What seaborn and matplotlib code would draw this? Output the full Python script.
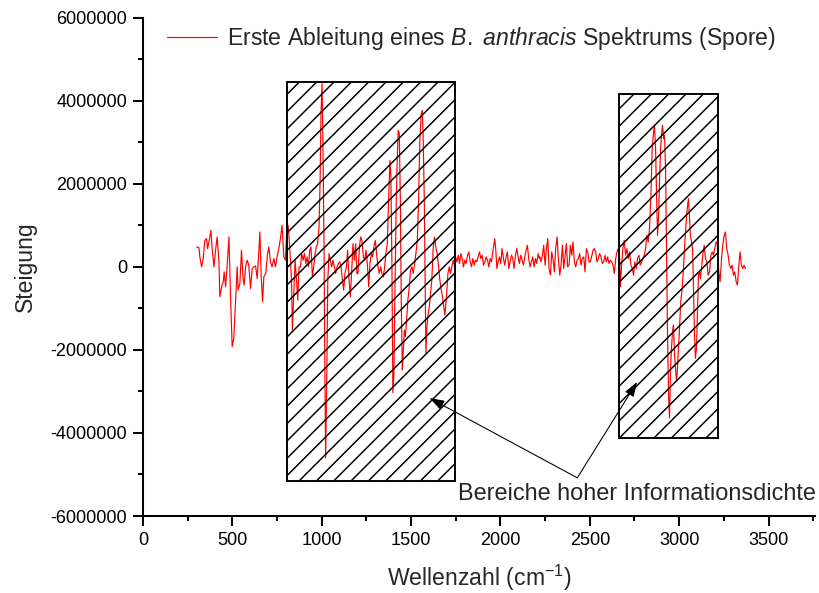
import numpy as np
import pandas as pd
import matplotlib.pyplot as plt
import seaborn as sns
from matplotlib.patches import Rectangle
from matplotlib.ticker import MultipleLocator, FuncFormatter


sns.set_style("ticks")
plt.rcParams["font.family"] = ["Liberation Sans", "DejaVu Sans"]
plt.rcParams["mathtext.fontset"] = "custom"
plt.rcParams["mathtext.rm"] = "Liberation Sans"
plt.rcParams["mathtext.it"] = "Liberation Sans:italic"
plt.rcParams["axes.unicode_minus"] = False

DPI = 104
S = 77 / DPI  # sizes below were tuned for 77 dpi
plt.rcParams["hatch.linewidth"] = 1.4 * S

# first derivative of the spectrum, wavenumber in cm^-1, slope in units of 1e6
wavenumber = [
    300, 313, 318, 328, 337, 346, 356, 361, 369, 380, 387, 397, 406, 415, 425,
    430, 440, 449, 454, 462, 471, 481, 490, 499, 508, 518, 527, 532, 542, 551,
    560, 566, 574, 583, 592, 602, 611, 620, 630, 639, 648, 654, 661, 669, 676,
    687, 696, 704, 713, 722, 732, 741, 750, 760, 769, 778, 788, 797, 803,
    812, 817, 825, 831, 836, 844, 851, 859, 866, 873, 881, 888, 896, 903, 911,
    918, 926, 933, 940, 948, 955, 963, 970, 977, 985, 991, 996, 1002, 1007,
    1013, 1018, 1022, 1028, 1034, 1041, 1048, 1056, 1063, 1071, 1078, 1086,
    1093, 1101, 1108, 1116, 1123, 1130, 1138, 1145, 1153, 1160, 1168, 1175,
    1183, 1190, 1197,
    1203, 1211, 1218, 1225, 1233, 1240, 1248, 1255, 1263, 1270, 1278, 1285,
    1292, 1300, 1307, 1315, 1322, 1330, 1337, 1345, 1352, 1359, 1367, 1374,
    1382, 1387, 1393, 1398, 1404, 1409, 1417, 1423, 1428, 1434, 1440, 1445,
    1451, 1456, 1462, 1468, 1475, 1482, 1490, 1497, 1505, 1512, 1520, 1527,
    1535, 1542, 1549, 1557, 1563, 1568, 1574, 1580, 1583, 1589, 1594, 1602,
    1609, 1616, 1624, 1631, 1638, 1646, 1654, 1661, 1669, 1676, 1683, 1689,
    1698, 1706, 1714, 1721, 1728, 1736,
    1743, 1749, 1756, 1764, 1771, 1779, 1786, 1793, 1801, 1808, 1816, 1823,
    1831, 1838, 1846, 1853, 1860, 1868, 1875, 1883, 1890, 1898, 1905, 1913,
    1920, 1928, 1935, 1942, 1950, 1957, 1963, 1968, 1974, 1980, 1987, 1995,
    2002, 2009, 2017, 2024, 2032, 2039, 2047, 2054, 2062, 2069, 2076, 2084,
    2091, 2099, 2106, 2114, 2121, 2129, 2136, 2144, 2151, 2158, 2166, 2173,
    2181, 2188, 2196, 2203, 2211, 2218,
    2220, 2227, 2235, 2242, 2250, 2257, 2265, 2272, 2280, 2287, 2294, 2302,
    2309, 2317, 2324, 2332, 2339, 2347, 2354, 2361, 2369, 2376, 2384, 2391,
    2399, 2406, 2414, 2421, 2429, 2436, 2443, 2451, 2458, 2466, 2473, 2481,
    2488, 2496, 2503, 2510, 2518, 2525, 2533, 2540, 2548, 2555, 2563, 2570,
    2578, 2585, 2592, 2600, 2607, 2615, 2622, 2630, 2637, 2645, 2652, 2659,
    2667,
    2671, 2678, 2685, 2693, 2700, 2708, 2715, 2723, 2730, 2738, 2745, 2752,
    2760, 2767, 2775, 2782, 2790, 2797, 2805, 2812, 2820, 2827, 2834, 2842,
    2849, 2857, 2862, 2868, 2874, 2879, 2885, 2890, 2896, 2901, 2907, 2913,
    2918, 2924, 2929, 2935, 2941, 2946, 2952, 2957, 2963, 2968, 2974, 2980,
    2985, 2991, 2996, 3002, 3009, 3017, 3024, 3032, 3039, 3047, 3052, 3058,
    3063, 3069, 3075, 3080, 3086, 3091, 3097, 3103, 3108, 3114, 3119, 3125,
    3132, 3140, 3147, 3155, 3162, 3170, 3177, 3185, 3192, 3199, 3207, 3214,
    3222, 3229, 3237, 3244, 3252, 3259, 3266, 3274, 3281, 3289, 3296, 3304,
    3311, 3319, 3326, 3334, 3341, 3348, 3356, 3363, 3371,
]
slope_mio = [
    0.48, 0.46, 0.24, 0.00, 0.20, 0.64, 0.68, 0.44, 0.60, 0.88, 0.44, 0.00,
    0.40, 0.72, 0.12, -0.72, -0.48, -0.36, -0.12, -0.48, 0.04, 0.72, -0.76,
    -1.92, -1.72, -0.84, 0.00, -0.56, -0.40, 0.40, -0.28, -0.44, 0.00, 0.16,
    0.04, -0.52, -0.04, 0.00, 0.02, -0.28, 0.36, 0.84, -0.20, -0.84, -0.24,
    -0.16, 0.28, 0.48, 0.12, 0.00, 0.20, 0.00, 0.24, 0.44, 0.68, 1.00, 0.24,
    0.16, 0.76,
    1.00, 0.72, 0.16, -0.32, -1.52, -0.64, 0.16, -0.32, -0.80, 0.00, 0.00,
    0.32, 0.16, 0.32, 0.08, 0.24, 0.00, 0.40, 0.48, -0.24, 0.00, 0.32, 0.48,
    0.56, 0.96, 2.08, 3.69, 4.41, 2.88, 0.48, -2.72, -4.60, -2.72, -0.32,
    0.32, 0.16, 0.00, 0.16, 0.00, -0.16, 0.00, 0.08, 0.12, 0.00, -0.32,
    -0.56, -0.16, 0.00, 0.40, -0.32, -0.72, -0.08, 0.56, 0.16, 0.56, -0.16,
    -0.16, 0.48, 0.72, 0.64, 0.24, 0.16, 0.40, 0.08, -0.48, 0.08, 0.32, 0.24,
    0.48, 0.64, 0.32, 0.00, -0.16, 0.00, -0.16, -0.24, 0.00, 0.32, 0.56,
    1.60, 2.56, 2.16, 0.00, -3.03, -2.60, -0.80, 1.60, 2.64, 3.29, 3.21,
    1.60, -0.80, -2.48, -2.08, -1.52, -1.68, -1.28, -0.80, -0.48, -0.08,
    0.00, -0.16, 0.08, 0.32, 0.64, 1.60, 3.04, 3.69, 3.77, 3.04, 1.60, -0.96,
    -2.07, -1.44, -1.20, -0.96, -0.64, -0.32, 0.48, 0.72, 0.48, 0.32, 0.00,
    -0.32, -0.56, -0.72, -0.96, -1.16, -0.72, -0.16, 0.00, -0.16, 0.00, 0.16,
    0.04, 0.24, 0.12, 0.28, 0.08, 0.32, 0.20, 0.00, 0.16, 0.08, 0.28, 0.36,
    0.12, 0.00, 0.20, 0.04, 0.16, 0.12, 0.24, 0.36, 0.20, 0.28, 0.04, 0.12,
    0.24, 0.16, 0.00, 0.20, 0.12, 0.36, 0.52, 0.68, 0.40, -0.04, 0.12, 0.24,
    0.08, 0.44, 0.20, 0.04, 0.24, 0.36, -0.04, 0.12, 0.28, 0.20, -0.04, 0.28,
    0.44, 0.24, 0.08, 0.28, 0.16, 0.04, 0.24, 0.40, 0.52, 0.20, 0.00, 0.12,
    0.24, 0.00, 0.20, 0.08, 0.32, 0.20,
    0.24, 0.12, 0.28, 0.52, 0.04, 0.44, 0.68, -0.04, -0.20, 0.36, 0.20,
    -0.12, 0.44, 0.72, 0.20, -0.20, 0.04, 0.52, -0.04, 0.24, 0.56, 0.00,
    0.04, 0.52, 0.28, 0.60, 0.12, 0.00, 0.16, 0.20, 0.32, 0.04, 0.20, 0.24,
    -0.12, 0.44, 0.36, 0.12, 0.12, 0.24, 0.40, 0.44, 0.36, 0.12, 0.20, 0.32,
    0.24, 0.08, 0.12, 0.28, 0.12, 0.24, 0.08, 0.16, 0.12, 0.04, -0.16, 0.20,
    0.36, 0.44, 0.20,
    -0.48, 0.04, 0.44, 0.64, 0.28, 0.44, 0.20, 0.36, 0.04, -0.04, -0.20,
    0.12, -0.04, 0.20, 0.28, 0.04, 0.12, 0.20, 0.28, 0.44, 0.76, 0.60, 0.92,
    1.72, 2.85, 3.25, 3.41, 2.85, 1.64, 0.76, 1.24, 2.04, 2.85, 3.17, 3.41,
    3.09, 3.17, 2.37, 0.44, -1.64, -3.16, -3.64, -2.44, -1.96, -1.56, -1.40,
    -2.12, -2.44, -2.76, -2.44, -1.96, -1.48, -0.84, -0.52, -0.04, 0.60,
    1.08, 1.48, 1.64, 1.16, 0.76, 0.60, 0.44, -0.52, -1.64, -2.20, -1.96,
    -1.00, -0.20, -0.12, -0.28, -0.04, 0.28, 0.52, 0.20, 0.12, -0.20, -0.12,
    0.28, 0.36, 0.28, 0.44, 0.60, 0.52, -0.12, -0.36, 0.20, 0.52, 0.76, 0.84,
    0.44, 0.28, 0.04, -0.04, 0.04, -0.20, -0.12, -0.36, -0.44, 0.04, 0.36,
    0.04, -0.04, 0.04, -0.04,
]

# hatched regions: (x from, x to, y from, y to)
region_x = [(804, 1743), (2665, 3218)]
region_y = [(-5.15e6, 4.44e6), (-4.12e6, 4.17e6)]

df = pd.DataFrame({"wavenumber": wavenumber, "slope": np.array(slope_mio) * 1e6})

fig = plt.figure(figsize=(819 / DPI, 593 / DPI), dpi=DPI)
ax = fig.add_axes([0.1746, 0.1298, 0.8205, 0.8404])

sns.lineplot(
    data=df, x="wavenumber", y="slope", color="red", lw=1.1 * S, ax=ax,
    estimator=None, sort=False, zorder=2,
    label=r"Erste Ableitung eines $\mathit{B.}$ $\mathit{anthracis}$ Spektrums (Spore)",
)

for (x0, x1), (y0, y1) in zip(region_x, region_y):
    ax.add_patch(Rectangle((x0, y0), x1 - x0, y1 - y0, fill=False, hatch="//",
                           edgecolor="black", lw=1.8 * S, zorder=3))

for tip in [(1603, -3.16e6), (2765, -2.77e6)]:
    ax.annotate("", xy=tip, xytext=(2430, -5.08e6), zorder=4,
                arrowprops=dict(arrowstyle="-|>,head_length=0.9,head_width=0.3",
                                mutation_scale=13 * S, color="black", lw=1.0 * S,
                                shrinkA=0, shrinkB=0))
ax.text(1765, -5.46e6, "Bereiche hoher Informationsdichte", fontsize=22 * S,
        va="center", ha="left")

ax.set_xlim(0, 3760)
ax.set_ylim(-6e6, 6e6)
ax.xaxis.set_major_locator(MultipleLocator(500))
ax.xaxis.set_minor_locator(MultipleLocator(250))
ax.yaxis.set_major_locator(MultipleLocator(2e6))
ax.yaxis.set_minor_locator(MultipleLocator(1e6))
ax.yaxis.set_major_formatter(FuncFormatter(lambda v, p: f"{v:.0f}"))
ax.tick_params(which="major", length=9.3 * S, width=1.9 * S, direction="out",
               labelsize=17 * S, pad=5.5 * S, color="black", labelcolor="black")
ax.tick_params(which="minor", length=4.7 * S, width=1.9 * S, direction="out",
               color="black")
sns.despine(ax=ax)
for s in ["left", "bottom"]:
    ax.spines[s].set_linewidth(1.9 * S)
    ax.spines[s].set_color("black")

ax.set_xlabel(r"Wellenzahl (cm$^{-1}$)", fontsize=21.5 * S)
ax.set_ylabel("Steigung", fontsize=21.5 * S)
ax.xaxis.set_label_coords(0.5, -0.093)
ax.yaxis.set_label_coords(-0.158, 0.5)

ax.legend(loc="center left", bbox_to_anchor=(0.0357, 0.959), frameon=False,
          fontsize=21.5 * S, handlelength=2.17, handletextpad=0.43, borderpad=0,
          borderaxespad=0)

fig.savefig("out.png", dpi=DPI)
